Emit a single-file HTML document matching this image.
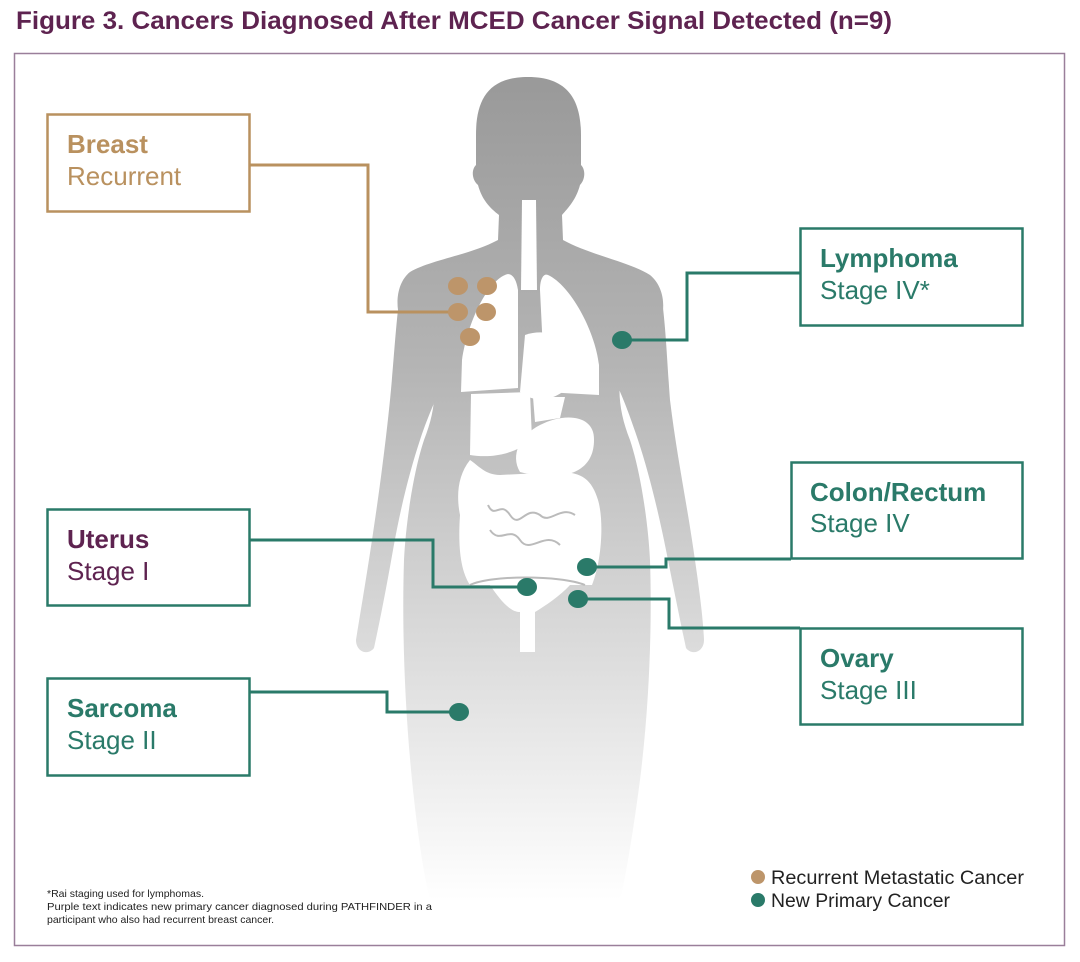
<!DOCTYPE html>
<html><head><meta charset="utf-8"><style>
body{margin:0;background:#fff;width:1080px;height:957px;overflow:hidden;font-family:"Liberation Sans",sans-serif}
</style></head><body>
<svg width="1080" height="957" viewBox="0 0 1080 957" xmlns="http://www.w3.org/2000/svg" font-family="Liberation Sans, sans-serif">
<defs>
<linearGradient id="bg" x1="0" y1="75" x2="0" y2="900" gradientUnits="userSpaceOnUse">
<stop offset="0" stop-color="#999"/><stop offset="0.35" stop-color="#b4b4b4"/><stop offset="0.7" stop-color="#dcdcdc"/><stop offset="1" stop-color="#fff"/>
</linearGradient>
</defs>
<text x="16" y="29" font-size="25" font-weight="bold" fill="#5e2350" textLength="876" lengthAdjust="spacingAndGlyphs">Figure 3. Cancers Diagnosed After MCED Cancer Signal Detected (n=9)</text>
<rect x="14.5" y="53.5" width="1050" height="892" fill="#fff" stroke="#9a7f9a" stroke-width="1.5"/>
<!-- body -->
<g fill="url(#bg)">
<!-- head/neck/torso/legs -->
<path d="M528 77 C568 77 581 100 581 135 L581 165 C586 170 585 180 580 185 C576 200 568 208 562 215 L563 240 C590 255 630 262 650 275 C662 285 664 300 663 310 L620 380 C618 400 622 420 630 440 C640 470 648 520 650 560 C652 620 650 700 640 780 C632 840 625 880 620 900 L430 900 C425 880 418 840 412 780 C404 700 402 620 404 560 C406 520 414 470 424 440 C432 420 436 400 434 380 L398 310 C396 295 400 280 410 272 C430 260 470 255 498 240 L499 215 C490 208 482 200 478 185 C472 180 471 170 476 165 L476 135 C476 100 488 77 528 77Z"/>
<!-- left arm -->
<path d="M400 295 C396 320 394 360 390 400 C385 450 378 500 372 540 C366 580 360 615 356 640 C356 652 368 656 374 648 C380 620 386 590 393 550 C400 510 410 470 420 440 C430 410 440 390 447 375 Z"/>
<!-- right arm -->
<path d="M662 300 C666 330 667 360 670 400 C676 450 686 500 692 540 C698 580 703 615 704 640 C704 652 692 656 686 648 C680 620 674 590 666 550 C658 510 648 470 638 440 C628 410 620 390 612 375 Z"/>
</g>
<!-- organs -->
<g fill="#fff">
<path d="M522 200 L536 200 L537 290 L521 290Z"/>
<path d="M505 275 C488 282 468 320 462 360 L461 392 L518 388 L518 290 C516 276 510 272 505 275Z"/>
<path d="M548 275 C570 285 595 330 599 365 L599 395 L545 392 L540 290 C540 278 544 273 548 275Z"/>
<path d="M525 335 C555 325 580 345 572 380 C563 400 535 405 520 392Z"/>
<path d="M471 394 L530 392 L532 440 C512 456 488 458 470 455Z"/>
<path d="M533 397 L565 397 L560 418 L535 422Z"/>
<path d="M540 425 C565 412 595 415 594 440 C594 475 560 482 520 472 C510 455 520 435 540 425Z"/>
<path d="M470 460 C458 475 456 495 460 515 C458 545 460 570 470 585 L592 585 C602 560 604 520 598 500 C592 480 582 472 560 472 L500 475 C485 475 478 465 470 460Z"/>
<path d="M490 585 C500 600 510 612 520 612 L520 652 L535 652 L535 612 C545 606 560 596 570 585Z"/>
</g>
<g fill="none" stroke="#bbb" stroke-width="2">
<path d="M488 505 C495 520 500 500 510 515 C520 530 525 505 540 515 C550 525 560 505 575 515"/>
<path d="M490 530 C500 545 510 525 520 540 C530 555 545 530 560 545"/>
<path d="M470 585 C490 575 560 575 585 585"/>
</g>
<!-- connectors -->
<g fill="none" stroke-width="3">
<polyline stroke="#b9915f" points="249,165 368,165 368,312 457,312"/>
<polyline stroke="#2a7a69" points="621,340 687,340 687,273 800,273"/>
<polyline stroke="#2a7a69" points="249,540 433,540 433,587 527,587"/>
<polyline stroke="#2a7a69" points="587,567 666,567 666,559 791,559"/>
<polyline stroke="#2a7a69" points="578,599 669,599 669,628 800,628"/>
<polyline stroke="#2a7a69" points="249,692 387,692 387,712 459,712"/>
</g>
<g fill="#bd956a">
<ellipse cx="458" cy="286" rx="10" ry="9"/><ellipse cx="487" cy="286" rx="10" ry="9"/>
<ellipse cx="458" cy="312" rx="10" ry="9"/><ellipse cx="486" cy="312" rx="10" ry="9"/>
<ellipse cx="470" cy="337" rx="10" ry="9"/>
</g>
<g fill="#2a7a69">
<ellipse cx="622" cy="340" rx="10" ry="9"/>
<ellipse cx="527" cy="587" rx="10" ry="9"/>
<ellipse cx="587" cy="567" rx="10" ry="9"/>
<ellipse cx="578" cy="599" rx="10" ry="9"/>
<ellipse cx="459" cy="712" rx="10" ry="9"/>
</g>
<!-- boxes -->
<g fill="#fff" stroke-width="2.5">
<rect x="47.5" y="114.5" width="202" height="97" stroke="#b9915f"/>
<rect x="800.5" y="228.5" width="222" height="97" stroke="#2a7a69"/>
<rect x="791.5" y="462.5" width="231" height="96" stroke="#2a7a69"/>
<rect x="47.5" y="509.5" width="202" height="96" stroke="#2a7a69"/>
<rect x="800.5" y="628.5" width="222" height="96" stroke="#2a7a69"/>
<rect x="47.5" y="678.5" width="202" height="97" stroke="#2a7a69"/>
</g>
<g font-size="26">
<text x="67" y="153" fill="#b9915f" font-weight="bold">Breast</text>
<text x="67" y="185" fill="#b9915f">Recurrent</text>
<text x="820" y="267" fill="#2a7a69" font-weight="bold">Lymphoma</text>
<text x="820" y="299" fill="#2a7a69">Stage IV*</text>
<text x="810" y="501" fill="#2a7a69" font-weight="bold">Colon/Rectum</text>
<text x="810" y="532" fill="#2a7a69">Stage IV</text>
<text x="67" y="548" fill="#5e2350" font-weight="bold">Uterus</text>
<text x="67" y="580" fill="#5e2350">Stage I</text>
<text x="820" y="667" fill="#2a7a69" font-weight="bold">Ovary</text>
<text x="820" y="699" fill="#2a7a69">Stage III</text>
<text x="67" y="717" fill="#2a7a69" font-weight="bold">Sarcoma</text>
<text x="67" y="749" fill="#2a7a69">Stage II</text>
</g>
<g font-size="10.5" fill="#222">
<text x="47" y="897">*Rai staging used for lymphomas.</text>
<text x="47" y="910" textLength="385" lengthAdjust="spacingAndGlyphs">Purple text indicates new primary cancer diagnosed during PATHFINDER in a</text>
<text x="47" y="923">participant who also had recurrent breast cancer.</text>
</g>
<circle cx="758" cy="877" r="7" fill="#bd956a"/>
<circle cx="758" cy="900" r="7" fill="#2a7a69"/>
<g font-size="19" fill="#222">
<text x="771" y="884" textLength="253" lengthAdjust="spacingAndGlyphs">Recurrent Metastatic Cancer</text>
<text x="771" y="907" textLength="179" lengthAdjust="spacingAndGlyphs">New Primary Cancer</text>
</g>
</svg>
</body></html>
